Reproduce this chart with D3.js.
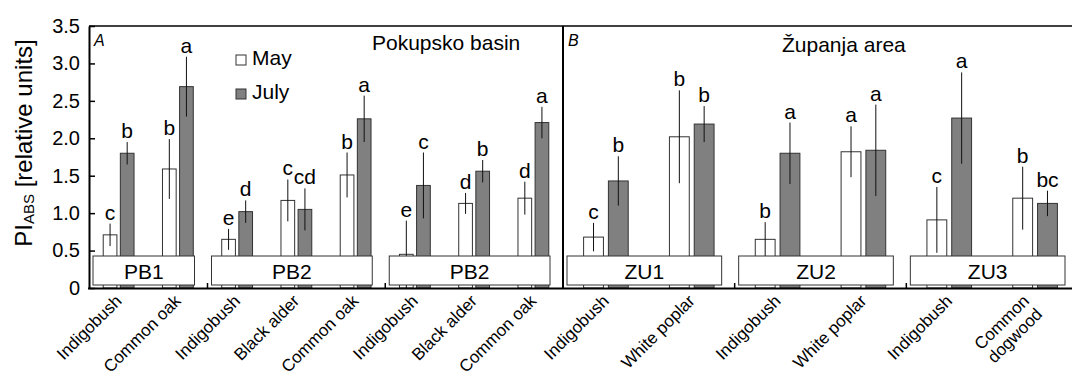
<!DOCTYPE html>
<html>
<head>
<meta charset="utf-8">
<script src="https://cdn.jsdelivr.net/npm/d3@7"></script>
<style>
  body { margin: 0; background: #fff; }
  svg { font-family: "Liberation Sans", Arial, sans-serif; }
</style>
</head>
<body>
<svg width="1072" height="376"></svg>
<script>
// PI_ABS by species, site and month

var species = ["Indigobush", "Common oak",
               "Indigobush", "Black alder", "Common oak",
               "Indigobush", "Black alder", "Common oak",
               "Indigobush", "White poplar",
               "Indigobush", "White poplar",
               "Indigobush", "Common dogwood"];
var panelOf = [0, 0, 0, 0, 0, 0, 0, 0, 1, 1, 1, 1, 1, 1];
var siteOf = [0, 0, 1, 1, 1, 2, 2, 2, 3, 3, 4, 4, 5, 5];
var siteNames = ["PB1", "PB2", "PB2", "ZU1", "ZU2", "ZU3"];
var panelNames = ["Pokupsko basin", "Županja area"];
var panelLetters = ["A", "B"];
var months = ["May", "July"];

var may =      [0.71, 1.59, 0.65, 1.17, 1.51, 0.45, 1.13, 1.20, 0.68, 2.02, 0.65, 1.82, 0.91, 1.20];
var mayErr =   [0.15, 0.40, 0.14, 0.28, 0.30, 0.45, 0.14, 0.22, 0.19, 0.62, 0.23, 0.34, 0.44, 0.42];
var mayLet =   ["c", "b", "e", "c", "b", "e", "d", "d", "c", "b", "b", "a", "c", "b"];
var july =     [1.80, 2.69, 1.02, 1.05, 2.26, 1.37, 1.56, 2.21, 1.43, 2.19, 1.80, 1.84, 2.27, 1.13];
var julyErr =  [0.15, 0.40, 0.15, 0.28, 0.31, 0.44, 0.15, 0.21, 0.33, 0.24, 0.41, 0.61, 0.61, 0.17];
var julyLet =  ["b", "a", "d", "cd", "a", "c", "b", "a", "b", "b", "a", "a", "a", "bc"];

var yTicks = [0, 0.5, 1.0, 1.5, 2.0, 2.5, 3.0, 3.5];

var svg = d3.select("svg");
var greyFill = "#808080";

var y = d3.scaleLinear().domain([0, 3.5]).range([288, 26]).clamp(true);

// 두 패널은 각자 band 스케일
var xA = d3.scaleBand().domain(d3.range(0, 8)).range([89, 563]);
var xB = d3.scaleBand().domain(d3.range(8, 14)).range([563, 1078]);
function xs(i) { return panelOf[i] === 0 ? xA : xB; }
function xc(i) { return xs(i)(i) + xs(i).bandwidth() / 2; }

var rows = species.map(function(s, i) {
  return [
    {i: i, m: 0, v: may[i], e: mayErr[i], l: mayLet[i]},
    {i: i, m: 1, v: july[i], e: julyErr[i], l: julyLet[i]}
  ];
});
rows = [].concat.apply([], rows);

function inner(i) {
  var bw = xs(i).bandwidth() * 0.26;
  return d3.scaleBand().domain([0, 1]).range([-bw, bw]).paddingInner(0.2);
}
function barX(d) { return xc(d.i) + inner(d.i)(d.m); }
function barMid(d) { return barX(d) + inner(d.i).bandwidth() / 2; }

// bars
svg.selectAll("rect.bar")
  .data(rows)
  .enter()
  .append("rect")
  .attr("class", "bar")
  .attr("x", barX)
  .attr("width", function(d) { return inner(d.i).bandwidth(); })
  .attr("y", function(d) { return y(d.v); })
  .attr("height", function(d) { return y(0) - y(d.v); })
  .attr("fill", function(d) { return d.m === 0 ? "#fff" : greyFill; })
  .attr("stroke", "#333")
  .attr("stroke-width", 1);

// error bars
svg.selectAll("line.err")
  .data(rows)
  .enter()
  .append("line")
  .attr("x1", barMid)
  .attr("x2", barMid)
  .attr("y1", function(d) { return y(d.v + d.e); })
  .attr("y2", function(d) { return y(d.v - d.e); })
  .attr("stroke", "#111")
  .attr("stroke-width", 1);

// letters
svg.selectAll("text.let")
  .data(rows)
  .enter()
  .append("text")
  .attr("x", barMid)
  .attr("y", function(d) { return y(d.v + d.e) - 4; })
  .attr("text-anchor", "middle")
  .attr("font-size", 21)
  .text(function(d) { return d.l; });

// site boxes
var siteIdx = d3.range(siteNames.length);
function siteStart(s) { var i = siteOf.indexOf(s); return xs(i)(i); }
function siteEnd(s) { var i = siteOf.lastIndexOf(s); return xs(i)(i) + xs(i).bandwidth(); }

svg.selectAll("rect.site")
  .data(siteIdx)
  .enter()
  .append("rect")
  .attr("x", function(s) { return siteStart(s) + 4; })
  .attr("width", function(s) { return siteEnd(s) - siteStart(s) - 17; })
  .attr("y", y(0) - 32)
  .attr("height", 29)
  .attr("fill", "#fff")
  .attr("stroke", "#333")
  .attr("stroke-width", 1);

svg.selectAll("text.site")
  .data(siteIdx)
  .enter()
  .append("text")
  .attr("x", function(s) { return (siteStart(s) + 4 + siteEnd(s) - 13) / 2; })
  .attr("y", y(0) - 9)
  .attr("text-anchor", "middle")
  .attr("font-size", 21)
  .text(function(s) { return siteNames[s]; });

// group separator ticks
svg.selectAll("line.sep")
  .data(siteIdx.filter(function(s) { return s !== 0 && s !== 3; }))
  .enter()
  .append("line")
  .attr("x1", siteStart).attr("x2", siteStart)
  .attr("y1", y(0) - 5).attr("y2", y(0))
  .attr("stroke", "#000").attr("stroke-width", 1.5);

// frame
var frame = svg.append("g").attr("stroke", "#000").attr("fill", "none");
frame.append("line").attr("x1", 89).attr("x2", 1072).attr("y1", y(3.5)).attr("y2", y(3.5)).attr("stroke-width", 1.5);
frame.append("line").attr("x1", 563).attr("x2", 563).attr("y1", y(3.5)).attr("y2", y(0)).attr("stroke-width", 2);
frame.append("line").attr("x1", 88).attr("x2", 1072).attr("y1", y(0) + 0.5).attr("y2", y(0) + 0.5).attr("stroke-width", 2);

// y axis
var yAxis = d3.axisLeft(y)
  .tickValues(yTicks)
  .tickSizeInner(-6)
  .tickSizeOuter(0)
  .tickPadding(9)
  .tickFormat(function(d) { return d === 0 ? "0" : d.toFixed(1); });

var yG = svg.append("g").attr("transform", "translate(89,0)").call(yAxis);
yG.select(".domain").attr("stroke-width", 2);
yG.selectAll(".tick line").attr("stroke-width", 1.5);
yG.selectAll(".tick text")
  .attr("font-size", 20)
  .attr("font-family", "Liberation Sans, Arial, sans-serif")
  .attr("fill", "#000");

// y label
var yl = svg.append("text")
  .attr("transform", "translate(32,143) rotate(-90)")
  .attr("text-anchor", "middle")
  .attr("font-size", 24);
yl.append("tspan").text("PI");
yl.append("tspan").attr("font-size", 15).attr("dy", 2).text("ABS");
yl.append("tspan").attr("dy", -2).text(" [relative units]");

// x labels
var xl = svg.selectAll("g.xl")
  .data(species)
  .enter()
  .append("g")
  .attr("transform", function(s, i) {
    var dx = s.length > 12 ? -5 : 4;
    return "translate(" + (xc(i) + dx) + ",302) rotate(-45)";
  });

xl.append("text")
  .attr("text-anchor", "end")
  .attr("font-size", 17)
  .each(function(s) {
    var words = s.length > 12 ? s.split(" ") : [s];
    var t = d3.select(this);
    words.forEach(function(w, k) {
      t.append("tspan").attr("x", 0).attr("dy", k === 0 ? 0 : "1.1em").text(w);
    });
  });

// panel titles
svg.selectAll("text.pl")
  .data(panelLetters)
  .enter()
  .append("text")
  .attr("x", function(d, k) { return k === 0 ? 94 : 568; })
  .attr("y", 46)
  .attr("font-size", 16)
  .attr("font-style", "italic")
  .text(function(d) { return d; });

svg.selectAll("text.pn")
  .data(panelNames)
  .enter()
  .append("text")
  .attr("x", function(d, k) { return k === 0 ? 372 : 782; })
  .attr("y", function(d, k) { return k === 0 ? 50 : 52; })
  .attr("font-size", 21)
  .text(function(d) { return d; });

// legend
var lg = svg.selectAll("g.lg")
  .data(months)
  .enter()
  .append("g")
  .attr("transform", function(d, k) { return "translate(236," + (55 + k * 34) + ")"; });

lg.append("rect")
  .attr("width", 10).attr("height", 10)
  .attr("fill", function(d, k) { return k === 0 ? "#fff" : greyFill; })
  .attr("stroke", "#333");

lg.append("text")
  .attr("x", 16).attr("y", 10)
  .attr("font-size", 21)
  .text(function(d) { return d; });
</script>
</body>
</html>
